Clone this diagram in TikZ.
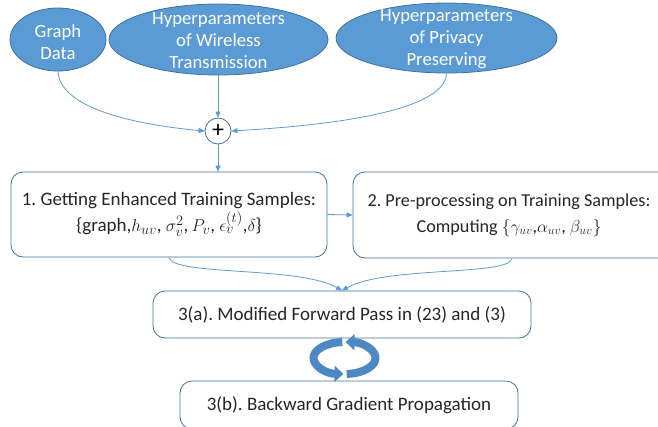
\documentclass[tikz,border=0pt]{standalone}
\usepackage{fontspec}
\setmainfont{Carlito}
\usetikzlibrary{arrows.meta,shapes.geometric}
\definecolor{ellfill}{HTML}{5B9BD5}
\definecolor{ellline}{HTML}{41719C}
\definecolor{connc}{HTML}{5B9BD5}
\definecolor{boxline}{HTML}{41719C}
\definecolor{cycc}{HTML}{4F87C4}
\frenchspacing
\begin{document}
\begin{tikzpicture}[x=1pt,y=-1pt,
 ell/.style={ellipse, draw=ellline, fill=ellfill, line width=0.8pt, inner sep=0pt},
 elltext/.style={text=white, align=center, font=\fontsize{18.7}{22}\selectfont, inner sep=0pt},
 stepbox/.style={draw=boxline, rounded corners=12pt, line width=0.8pt, fill=white, align=center, font=\fontsize{19}{26}\selectfont, inner sep=0pt, text=black!85},
 boxtext/.style={align=center, font=\fontsize{18.2}{26}\selectfont, inner sep=0pt, text=black!85},
 connarrow/.style={draw=connc, line width=0.8pt, -{Triangle[length=6pt,width=5pt]}},
 cycarrow/.style={draw=cycc, line width=8pt, -{Triangle[length=9pt,width=16pt]}},
]
\useasboundingbox (0,0) rectangle (658,426);
% ellipses
\node[ell, minimum width=96pt, minimum height=63pt] (gd) at (58,39.5) {};
\node[elltext] (gdt) at (58,42) {Graph\\Data};
\node[ell, minimum width=219pt, minimum height=71pt] (hw) at (218.5,39.5) {};
\node[elltext] (hwt) at (218.5,41) {Hyperparameters\\of Wireless\\Transmission};
\node[ell, minimum width=221pt, minimum height=70pt] (hp) at (446.5,38) {};
\node[elltext] (hpt) at (446.5,39.5) {Hyperparameters\\of Privacy\\Preserving};
% plus
\node[circle, draw=ellline, fill=white, line width=0.8pt, minimum size=26pt, inner sep=0pt, font=\fontsize{24}{24}\selectfont] (plus) at (218,131) {+};
% boxes
\node[stepbox, minimum width=316pt, minimum height=85pt] (b1) at (169,214.5) {1. Getting Enhanced Training Samples:\\\{graph,$h_{uv}$, $\sigma_v^2$,\,$P_v$, $\epsilon_v^{(t)}$,$\delta$\}};
\node[stepbox, minimum width=317pt, minimum height=86pt] (b2) at (511.5,215) {};
\node[boxtext] (b2t) at (509,215) {2. Pre-processing on Training Samples:\\Computing $\{\gamma_{uv}$,$\alpha_{uv}$, $\beta_{uv}\}$};
\node[stepbox, minimum width=378pt, minimum height=47pt] (b3a) at (342,314.5) {3(a). Modified Forward Pass in (23) and (3)};
\node[stepbox, minimum width=338pt, minimum height=48pt] (b3b) at (349,405) {3(b). Backward Gradient Propagation};
% connectors
\draw[connarrow] (gd.south) .. controls (60,112) and (150,126) .. (plus.west);
\draw[connarrow] (plus.north |- hw.south) -- (plus.north);
\draw[connarrow] (hp.south) .. controls (445,116) and (300,127) .. (plus.east);
\draw[connarrow] (plus.south) -- (plus.south |- b1.north);
\draw[connarrow] (b1.east) -- (b2.west);
\draw[connarrow] (b1.south) .. controls (172,276) and (300,266) .. (b3a.north);
\draw[connarrow] (b2.south -| 512,0) .. controls (510,276) and (385,266) .. (b3a.north);
% cycle arrows
\coordinate (cyc) at (344.5,358);
\draw[cycarrow] ([shift={(94:31pt and 16pt)}]cyc) arc[start angle=94, end angle=268, x radius=31pt, y radius=16pt];
\draw[cycarrow] ([shift={(274:31pt and 16pt)}]cyc) arc[start angle=274, end angle=448, x radius=31pt, y radius=16pt];
\end{tikzpicture}
\end{document}
